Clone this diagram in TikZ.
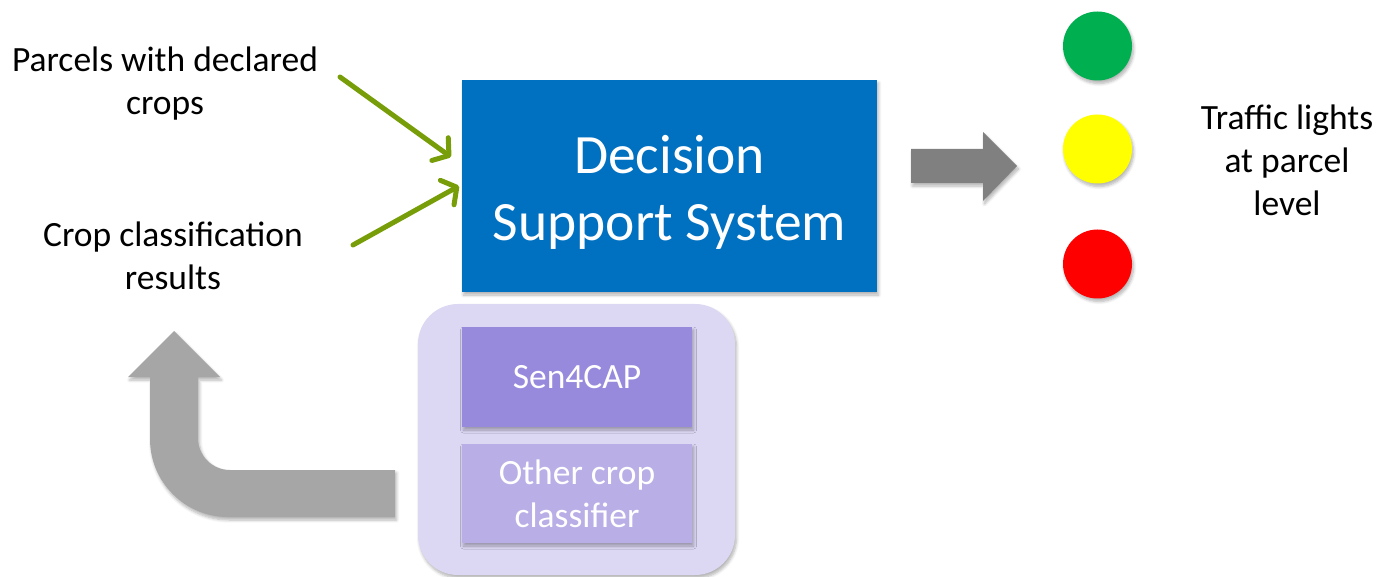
\documentclass[tikz,border=0pt]{standalone}
\usepackage{fontspec}
\setmainfont{Carlito}
\usetikzlibrary{arrows.meta,shadows,shadows.blur}
\definecolor{dssblue}{HTML}{0070C0}
\definecolor{feedgreen}{RGB}{119,158,8}
\definecolor{darkarrow}{HTML}{808080}
\definecolor{lightarrow}{HTML}{A6A6A6}
\definecolor{lavender}{HTML}{DCD7F3}
\definecolor{sencolor}{HTML}{978ADD}
\definecolor{othercolor}{HTML}{B9AEE6}
\definecolor{tlgreen}{HTML}{00B050}
\definecolor{tlyellow}{HTML}{FFFF00}
\definecolor{tlred}{HTML}{FF0000}
\tikzset{
  softshadow/.style={blur shadow={shadow xshift=1.5pt,shadow yshift=-3pt,shadow opacity=30,shadow blur steps=6,shadow blur radius=3pt}},
  label text/.style={align=center,font=\fontsize{35.5}{43}\selectfont,text=black},
  mainbox/.style={fill=dssblue,minimum width=415pt,minimum height=212pt,softshadow},
  maintitle/.style={text=white,align=center,font=\fontsize{55.5}{67}\selectfont},
  classbox/.style={text=white,align=center,minimum width=230pt,minimum height=99pt,
    font=\fontsize{35.5}{43}\selectfont,softshadow},
  feed/.style={draw=feedgreen,line width=5pt,line cap=round,
    -{Straight Barb[length=11pt,width=28pt,line cap=round,line join=round]}},
  light/.style={circle,minimum size=69pt,inner sep=0pt,softshadow},
}
\begin{document}
\begin{tikzpicture}[x=1pt,y=-1pt]
\useasboundingbox (0,0) rectangle (1379,577);

% inputs
\node[label text] (parcels) at (165,84) {Parcels with declared\\crops};
\node[label text] (results) at (173,256) {Crop classification\\results};

% central system
\node[mainbox] (dss) at (669.5,186) {};
\node[maintitle] (dsstitle) at ([yshift=-6pt]dss.center) {Decision\\Support System};

% classifiers group
\node[fill=lavender,rounded corners=40pt,minimum width=317pt,minimum height=271pt,softshadow]
  (group) at (576.5,439.5) {};
\node[classbox,fill=sencolor,minimum height=100pt] (sen) at (577,377) {Sen4CAP};
\node[classbox,fill=othercolor] (other) at (577,493.5) {Other crop\\classifier};

% green feed arrows into the system
\coordinate (p1) at (340,77);
\coordinate (p2) at (353,245);
\coordinate (t1) at (451,157);
\coordinate (t2) at (459,186);
\draw[feed] (p1) -- (t1);
\draw[feed] (p2) -- (t2);

% output arrow
\fill[darkarrow,softshadow] (911,149) -- (983,149) -- (983,132) -- (1017,166) -- (983,201)
  -- (983,183) -- (911,183) -- cycle;

% return arrow from the classifiers
\fill[lightarrow,softshadow] (395,470) -- (230,470) arc[start angle=270,end angle=180,radius=32pt]
  -- (198,377) -- (220,377) -- (174,331) -- (128,377) -- (150,377) -- (150,439)
  arc[start angle=180,end angle=270,radius=78pt] -- (395,517) -- cycle;

% traffic lights
\node[light,fill=tlgreen] (green) at (1097.5,46) {};
\node[light,fill=tlyellow] (yellow) at (1097.5,149) {};
\node[light,fill=tlred] (red) at (1097.5,264) {};
\node[label text] (traffic) at (1287,160) {Traffic lights\\at parcel\\level};
\end{tikzpicture}
\end{document}
